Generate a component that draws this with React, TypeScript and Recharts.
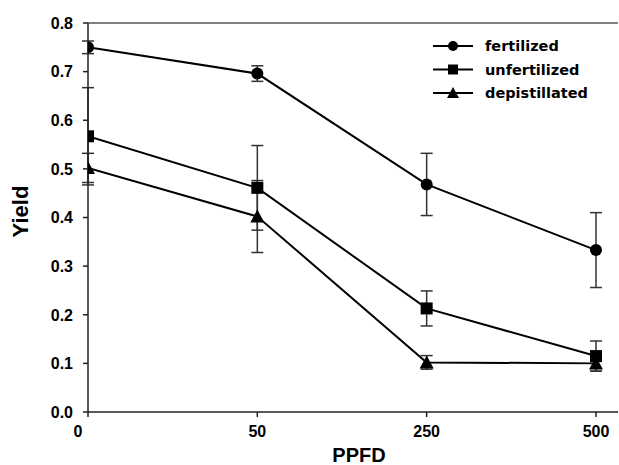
import React from 'react';
import { LineChart, Line, XAxis, YAxis, ErrorBar, Legend, ReferenceLine } from 'recharts';

const ppfdLabels = ['0', '50', '250', '500'];
const yTicks = [0, 0.1, 0.2, 0.3, 0.4, 0.5, 0.6, 0.7, 0.8];

const fertilized = [0.75, 0.696, 0.468, 0.333];
const fertilizedErr = [0.013, 0.016, 0.064, 0.077];
const unfertilized = [0.567, 0.461, 0.213, 0.115];
const unfertilizedErr = [0.1, 0.087, 0.036, 0.031];
const depistillated = [0.502, 0.402, 0.102, 0.1];
const depistillatedErr = [0.03, 0.074, 0.014, 0.016];

const data = ppfdLabels.map((label, i) => ({
  pos: i,
  label,
  fertilized: fertilized[i],
  fertilizedErr: fertilizedErr[i],
  unfertilized: unfertilized[i],
  unfertilizedErr: unfertilizedErr[i],
  depistillated: depistillated[i],
  depistillatedErr: depistillatedErr[i],
}));

const AXIS_FONT = '"Liberation Sans", Arial, sans-serif';
const LEGEND_FONT = '"DejaVu Sans", Verdana, sans-serif';

type Shape = 'circle' | 'square' | 'triangle';

const drawShape = (shape: Shape, cx: number, cy: number, s: number, key?: any) => {
  if (shape === 'circle') return <circle key={key} cx={cx} cy={cy} r={s} fill="#000" />;
  if (shape === 'square')
    return <rect key={key} x={cx - s} y={cy - s} width={2 * s} height={2 * s} fill="#000" />;
  return (
    <polygon
      key={key}
      points={`${cx},${cy - s - 1} ${cx - s - 1},${cy + s} ${cx + s + 1},${cy + s}`}
      fill="#000"
    />
  );
};

const makeDot = (shape: Shape) => (props: any) => {
  const { cx, cy, index } = props;
  if (cx == null || cy == null) return <g key={`e-${shape}-${index}`} />;
  return drawShape(shape, cx, cy, 6, `${shape}-${index}`);
};

const series: { key: string; name: string; shape: Shape }[] = [
  { key: 'fertilized', name: 'fertilized', shape: 'circle' },
  { key: 'unfertilized', name: 'unfertilized', shape: 'square' },
  { key: 'depistillated', name: 'depistillated', shape: 'triangle' },
];

const LegendContent = () => (
  <svg width={190} height={80} style={{ display: 'block' }}>
    {series.map((s, i) => {
      const y = 16 + i * 23.5;
      return (
        <g key={s.key}>
          <line x1={8} x2={48} y1={y} y2={y} stroke="#000" strokeWidth={2} />
          {drawShape(s.shape, 28, y, 5)}
          <text
            x={60}
            y={y}
            dy="0.36em"
            fontFamily={LEGEND_FONT}
            fontWeight="bold"
            fontSize={14.5}
            fill="#000"
          >
            {s.name}
          </text>
        </g>
      );
    })}
  </svg>
);

const XTick = (props: any) => {
  const { x, y, payload } = props;
  const v = payload.value;
  const shift = v === 0 ? -10 : 0;
  return (
    <text
      x={x + shift}
      y={y}
      dy="0.71em"
      textAnchor="middle"
      fontFamily={AXIS_FONT}
      fontWeight="bold"
      fontSize={16}
      fill="#000"
    >
      {ppfdLabels[v]}
    </text>
  );
};

const YTick = (props: any) => {
  const { x, y, payload } = props;
  return (
    <text
      x={x}
      y={y}
      dy="0.36em"
      textAnchor="end"
      fontFamily={AXIS_FONT}
      fontWeight="bold"
      fontSize={16}
      fill="#000"
    >
      {Number(payload.value).toFixed(1)}
    </text>
  );
};

export default function App() {
  return (
    <div style={{ position: 'absolute', left: 0, top: 0 }}>
      <LineChart
        width={619}
        height={465}
        data={data}
        margin={{ top: 23, right: 1, left: 0, bottom: 0 }}
      >
        <XAxis
          dataKey="pos"
          type="number"
          domain={[0, 3.13]}
          ticks={[0, 1, 2, 3]}
          allowDataOverflow
          height={53}
          tickSize={5}
          tickMargin={9}
          tick={<XTick />}
          axisLine={{ stroke: '#222', strokeWidth: 1.5 }}
          tickLine={{ stroke: '#222', strokeWidth: 1.5 }}
          label={{
            content: (p: any) => {
              const vb = p.viewBox || {};
              const cx = (vb.x ?? 88) + (vb.width ?? 530) / 2 + 6;
              return (
                <text
                  x={cx}
                  y={462}
                  textAnchor="middle"
                  fontFamily={AXIS_FONT}
                  fontWeight="bold"
                  fontSize={20}
                  fill="#000"
                >
                  PPFD
                </text>
              );
            },
          }}
        />
        <YAxis
          type="number"
          domain={[0, 0.8]}
          ticks={yTicks}
          width={88}
          tickSize={5}
          tickMargin={10}
          tick={<YTick />}
          axisLine={{ stroke: '#222', strokeWidth: 1.5 }}
          tickLine={{ stroke: '#222', strokeWidth: 1.5 }}
          label={{
            content: (p: any) => {
              const vb = p.viewBox || {};
              const cy = (vb.y ?? 23) + (vb.height ?? 389) / 2 - 6;
              return (
                <text
                  x={28}
                  y={cy}
                  transform={`rotate(-90 28 ${cy})`}
                  textAnchor="middle"
                  fontFamily={AXIS_FONT}
                  fontWeight="bold"
                  fontSize={22}
                  fill="#000"
                >
                  Yield
                </text>
              );
            },
          }}
        />
        <ReferenceLine y={0.8} stroke="#555" strokeWidth={1.5} />
        <Legend
          layout="vertical"
          align="center"
          verticalAlign="middle"
          content={<LegendContent />}
          wrapperStyle={{ left: 425, top: 30, width: 190, height: 80 }}
        />
        {series.map((s) => (
          <Line
            key={s.key}
            dataKey={s.key}
            name={s.name}
            stroke="#000"
            strokeWidth={2}
            dot={makeDot(s.shape)}
            activeDot={false}
            isAnimationActive={false}
          >
            <ErrorBar
              dataKey={`${s.key}Err`}
              direction="y"
              width={6}
              stroke="#333"
              strokeWidth={1.5}
              isAnimationActive={false}
            />
          </Line>
        ))}
      </LineChart>
    </div>
  );
}
